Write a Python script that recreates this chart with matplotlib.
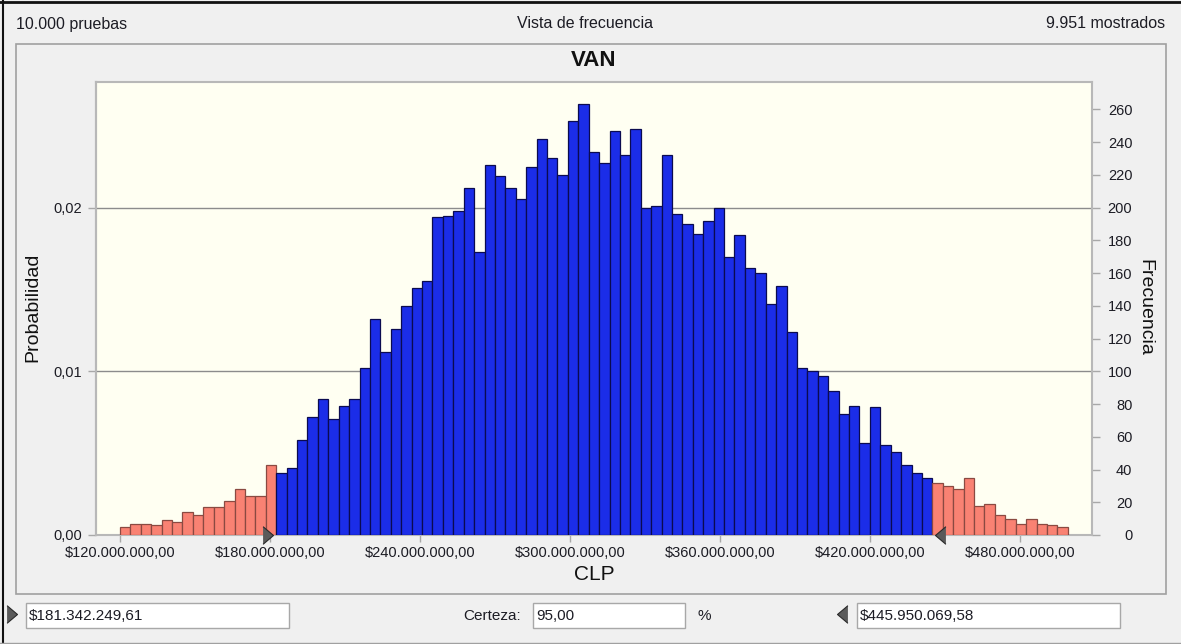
import matplotlib
matplotlib.use('Agg')
import matplotlib.pyplot as plt
import numpy as np
from matplotlib.patches import Rectangle
from matplotlib.lines import Line2D

plt.rcParams['font.family'] = ['Liberation Sans', 'DejaVu Sans']

# histogram data (values in millions of CLP, counts per bin)
bin_start = 120.0
bin_width = 4.166
counts = [5, 7, 7, 6, 9, 8, 14, 12, 17, 17, 21, 28, 24, 24, 43,
          38, 41, 58, 72, 83, 71, 79, 83, 102, 132, 112, 126, 140, 151, 155,
          194, 195, 198, 212, 173, 226, 219, 212, 205, 225, 242, 230, 220, 253, 263,
          234, 227, 247, 232, 248, 200, 201, 232, 196, 190, 184, 192, 200, 170, 183,
          163, 160, 141, 152, 124, 102, 100, 97, 88, 74, 79, 56, 78, 55, 51,
          43, 38, 35, 32, 30, 28, 35, 18, 19, 12, 10, 7, 10, 7, 6, 5]
lower_cut = 181.34224961
upper_cut = 445.95006958
certainty = 95.00
n_trials = 10000
n_shown = 9951

x_ticks = [120, 180, 240, 300, 360, 420, 480]
freq_ticks = list(range(0, 261, 20))
prob_ticks = [0.00, 0.01, 0.02]

W, H = 1181, 644
TXT = '#1c1c24'


def fx(x):
    return x / W


def fy(y):
    return 1 - y / H


def money(v, dec=2):
    s = f"{v:,.{dec}f}"
    return "$" + s.replace(",", "X").replace(".", ",").replace("X", ".")


fig = plt.figure(figsize=(W / 100, H / 100), dpi=100, facecolor='#f0f0f0')

# window frame
fig.add_artist(Line2D([0, 1], [fy(1.5), fy(1.5)], transform=fig.transFigure, color='#111111', lw=2))
fig.add_artist(Line2D([fx(2.5), fx(2.5)], [0, 1], transform=fig.transFigure, color='#111111', lw=1.5))
fig.add_artist(Line2D([0, 1], [fy(643), fy(643)], transform=fig.transFigure, color='#a0a0a0', lw=1))

# header
fig.text(fx(16), fy(24), f"{n_trials:,}".replace(",", ".") + " pruebas", fontsize=11.5,
         ha='left', va='center', color=TXT)
fig.text(fx(585), fy(24), "Vista de frecuencia", fontsize=11.5, ha='center', va='center', color=TXT)
fig.text(fx(1165), fy(24), f"{n_shown:,}".replace(",", ".") + " mostrados", fontsize=11.5,
         ha='right', va='center', color=TXT)

# chart panel
fig.add_artist(Rectangle((fx(16), fy(594)), (1166 - 16) / W, (594 - 44) / H,
                         transform=fig.transFigure, fill=False, ec='#a0a0a0', lw=1.2))

ax = fig.add_axes([fx(96), fy(535), (1092 - 96) / W, (535 - 82) / H])
ax.set_facecolor('#fffff2')

edges = bin_start + bin_width * np.arange(len(counts) + 1)
centers = edges[:-1] + bin_width / 2
tail = (centers < lower_cut) | (centers > upper_cut)
faces = np.where(tail, '#f98273', '#1b2de8')
lines = np.where(tail, '#8a4a42', '#0b0b50')
ax.bar(edges[:-1], counts, width=bin_width, align='edge', color=faces,
       edgecolor=lines, linewidth=0.9, zorder=3)

for p in prob_ticks[1:]:
    ax.axhline(p * n_trials, color='#8c8c8c', lw=1, zorder=1)

ax.set_xlim(110.4, 508.8)
ax.set_ylim(0, 276.7)

for s in ax.spines.values():
    s.set_color('#b8b8b8')
    s.set_linewidth(1.5)

ax.set_xticks(x_ticks)
ax.set_xticklabels([money(v * 1e6) for v in x_ticks])
ax.tick_params(axis='x', direction='out', length=5, width=1, color='#a8a8a8',
               labelsize=10.5, labelcolor=TXT, pad=3)

ax.yaxis.tick_right()
ax.set_yticks(freq_ticks)
ax.tick_params(axis='y', direction='out', length=6, width=1, color='#a8a8a8',
               labelsize=10.5, labelcolor=TXT, pad=23)
for lab in ax.get_yticklabels():
    lab.set_horizontalalignment('right')

sec = ax.secondary_yaxis('left', functions=(lambda c: c / n_trials, lambda p: p * n_trials))
sec.set_yticks(prob_ticks)
sec.set_yticklabels([f"{p:.2f}".replace(".", ",") for p in prob_ticks])
sec.tick_params(axis='y', direction='out', length=6, width=1, color='#a8a8a8',
                labelsize=10.5, labelcolor=TXT, pad=4)
sec.spines['left'].set_color('#b8b8b8')
sec.spines['left'].set_linewidth(1.5)

# truncation grabbers
right_tri = [(-1.18, -1), (0, 0), (-1.18, 1)]
left_tri = [(1.18, -1), (0, 0), (1.18, 1)]
ax.plot([lower_cut], [0], marker=right_tri, ms=15, mfc='#5a5a5a', mec='#2a2a2a',
        mew=0.8, clip_on=False, zorder=6, ls='none')
ax.plot([upper_cut], [0], marker=left_tri, ms=15, mfc='#5a5a5a', mec='#2a2a2a',
        mew=0.8, clip_on=False, zorder=6, ls='none')

# titles and axis labels
fig.text(fx(594), fy(60), "VAN", fontsize=16, fontweight='bold', ha='center', va='center', color='#111111')
fig.text(fx(594), fy(575), "CLP", fontsize=15, ha='center', va='center', color='#111111')
fig.text(fx(33), fy(307), "Probabilidad", fontsize=14, rotation=90, ha='center', va='center', color='#111111')
fig.text(fx(1145), fy(307), "Frecuencia", fontsize=14, rotation=-90, ha='center', va='center', color='#111111')


# bottom controls
def field(x0, x1, text):
    fig.add_artist(Rectangle((fx(x0), fy(628)), (x1 - x0) / W, (628 - 603) / H,
                             transform=fig.transFigure, fc='white', ec='#a8a8a8', lw=1))
    fig.text(fx(x0 + 3), fy(616), text, fontsize=11, ha='left', va='center', color=TXT)


def grabber(x, y, verts):
    fig.add_artist(Line2D([fx(x)], [fy(y)], transform=fig.transFigure, marker=verts, ms=15,
                          mfc='#5a5a5a', mec='#2a2a2a', mew=0.8, ls='none'))


grabber(17, 614, right_tri)
field(26, 289, money(lower_cut * 1e6))
fig.text(fx(521), fy(616), "Certeza:", fontsize=11, ha='right', va='center', color=TXT)
field(533, 685, f"{certainty:.2f}".replace(".", ","))
fig.text(fx(698), fy(616), "%", fontsize=11, ha='left', va='center', color=TXT)
grabber(837, 614, left_tri)
field(857, 1120, money(upper_cut * 1e6))

fig.savefig('out.png', dpi=100, facecolor=fig.get_facecolor())
